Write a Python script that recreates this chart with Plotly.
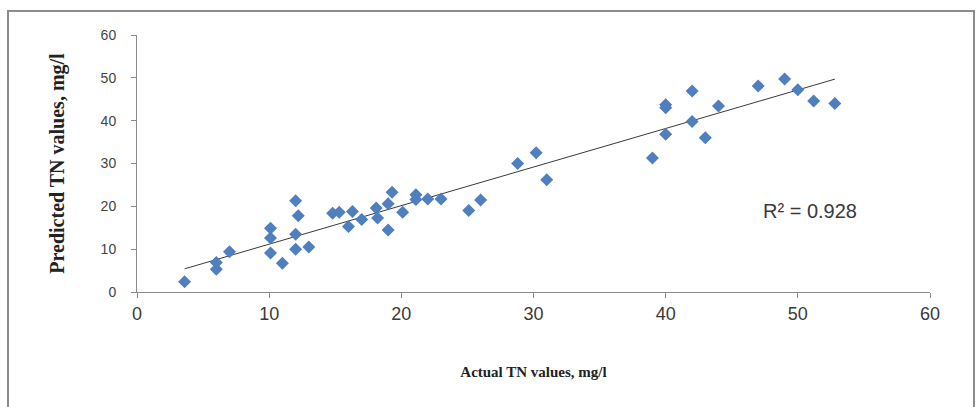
import numpy as np
import plotly.graph_objects as go

actual_tn = [3.6, 6.0, 6.0, 7.0, 10.1, 10.1, 10.1, 11.0, 12.0, 12.2, 12.0, 12.0, 13.0,
             14.8, 15.3, 16.3, 16.0, 17.0, 18.1, 18.2, 19.3, 19.0, 19.0, 20.1, 21.1,
             21.1, 22.0, 23.0, 25.1, 26.0, 28.8, 30.2, 31.0, 39.0, 40.0, 40.0, 40.0,
             42.0, 42.0, 43.0, 44.0, 47.0, 49.0, 50.0, 51.2, 52.8]
predicted_tn = [2.4, 6.9, 5.3, 9.4, 14.9, 12.6, 9.1, 6.7, 21.3, 17.8, 13.5, 10.0, 10.5,
                18.4, 18.6, 18.8, 15.3, 16.9, 19.6, 17.3, 23.3, 20.6, 14.5, 18.6, 22.7,
                21.6, 21.7, 21.7, 19.0, 21.5, 30.0, 32.5, 26.2, 31.3, 43.0, 43.7, 36.8,
                46.9, 39.8, 36.0, 43.4, 48.1, 49.7, 47.2, 44.6, 44.0]
r2_label = "R² = 0.928"
tick_vals = [0, 10, 20, 30, 40, 50, 60]

xa = np.array(actual_tn)
ya = np.array(predicted_tn)
slope, intercept = np.polyfit(xa, ya, 1)
trend_x = np.array([xa.min(), xa.max()])
trend_y = slope * trend_x + intercept

fig = go.Figure()
fig.add_trace(go.Scatter(
    x=trend_x, y=trend_y, mode="lines",
    line=dict(color="#3a3a3a", width=1), hoverinfo="skip", showlegend=False))
fig.add_trace(go.Scatter(
    x=actual_tn, y=predicted_tn, mode="markers",
    marker=dict(symbol="diamond", size=10, color="#4F7FBE"),
    showlegend=False))

axis_common = dict(range=[0, 60], tickvals=tick_vals, showgrid=False, zeroline=False,
                   showline=True, linecolor="#8a8a8a", linewidth=1,
                   ticks="outside", ticklen=5, tickcolor="#8a8a8a")

fig.update_layout(
    width=979, height=407,
    margin=dict(l=137, r=49, t=35, b=115),
    paper_bgcolor="white", plot_bgcolor="white",
    xaxis=dict(**axis_common,
               tickfont=dict(family="Liberation Sans Narrow, Arial Narrow, Liberation Sans", size=18, color="#3a3a3a"),
               title=dict(text="<b>Actual TN values, mg/l</b>", standoff=43,
                          font=dict(family="Liberation Serif", size=15, color="#222"))),
    yaxis=dict(**axis_common,
               ticklabelstandoff=12,
               tickfont=dict(family="Liberation Sans Narrow, Arial Narrow, Liberation Sans", size=14, color="#444"),
               title=dict(text="<b>Predicted TN values, mg/l</b>", standoff=30,
                          font=dict(family="Liberation Serif", size=20, color="#222"))),
    shapes=[dict(type="rect", xref="paper", yref="paper",
                 x0=(8 - 137) / 793, x1=(974 - 137) / 793,
                 y0=(292 - 420) / 257, y1=(292 - 11) / 257,
                 line=dict(color="#8c8c8c", width=2), fillcolor="rgba(0,0,0,0)", layer="below")],
)
fig.add_annotation(x=50.9, y=18.8, xref="x", yref="y", text=r2_label, showarrow=False,
                   font=dict(family="Liberation Sans, Arial", size=20, color="#3a3a3a"))

fig.write_html("out.html")
